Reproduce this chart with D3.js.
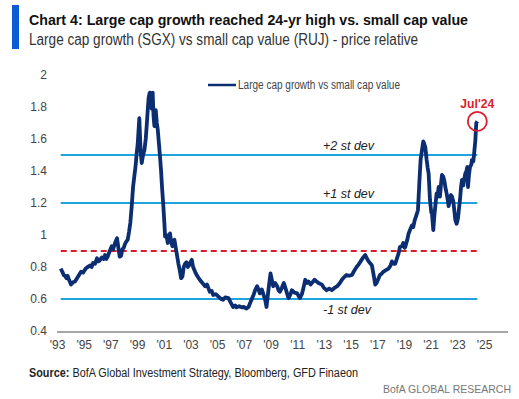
<!DOCTYPE html>
<html>
<head>
<meta charset="utf-8">
<script src="https://cdn.jsdelivr.net/npm/d3@7"></script>
<style>
  body { margin: 0; background: #fff; }
  svg { display: block; font-family: "Liberation Sans", Arial, sans-serif; }
</style>
</head>
<body>
<script>
(function() {
    'use strict';

    // decimal year of each reading, and the price relative SGX / RUJ
    var years = [
        1993.28, 1993.4, 1993.5, 1993.6, 1993.7, 1993.8, 1993.9, 1994.05, 1994.2, 1994.35,
        1994.5, 1994.65, 1994.8, 1994.95, 1995.15, 1995.3, 1995.5, 1995.6, 1995.7, 1995.85,
        1996.0, 1996.1, 1996.2, 1996.35, 1996.5, 1996.6, 1996.7, 1996.8, 1996.95, 1997.1,
        1997.2, 1997.35, 1997.5, 1997.6, 1997.7, 1997.8, 1997.9, 1998.0, 1998.1, 1998.2,
        1998.3, 1998.4, 1998.5, 1998.6, 1998.7, 1998.8, 1998.9, 1998.97, 1999.05, 1999.1,
        1999.17, 1999.22, 1999.27, 1999.35, 1999.45, 1999.55, 1999.65, 1999.72, 1999.8, 1999.87,
        1999.95, 2000.02, 2000.1, 2000.17, 2000.23, 2000.3, 2000.4, 2000.48, 2000.55, 2000.65,
        2000.72, 2000.8, 2000.87, 2000.97, 2001.05, 2001.1, 2001.2, 2001.3, 2001.4, 2001.47,
        2001.55, 2001.65, 2001.72, 2001.8, 2001.9, 2001.97, 2002.1, 2002.2, 2002.3, 2002.4,
        2002.5, 2002.6, 2002.7, 2002.8, 2002.9, 2003.0, 2003.1, 2003.2, 2003.35, 2003.5,
        2003.7, 2003.9, 2004.1, 2004.25, 2004.45, 2004.6, 2004.7, 2004.9, 2005.1, 2005.3,
        2005.45, 2005.6, 2005.85, 2006.0, 2006.2, 2006.35, 2006.45, 2006.65, 2006.85, 2007.0,
        2007.2, 2007.35, 2007.45, 2007.6, 2007.75, 2007.85, 2008.0, 2008.1, 2008.2, 2008.35,
        2008.5, 2008.6, 2008.7, 2008.85, 2009.0, 2009.1, 2009.2, 2009.35, 2009.5, 2009.6,
        2009.7, 2009.85, 2010.0, 2010.15, 2010.35, 2010.5, 2010.6, 2010.8, 2011.0, 2011.1,
        2011.2, 2011.35, 2011.5, 2011.6, 2011.75, 2011.85, 2012.0, 2012.1, 2012.3, 2012.45,
        2012.6, 2012.85, 2013.0, 2013.2, 2013.4, 2013.6, 2013.8, 2014.0, 2014.2, 2014.35,
        2014.5, 2014.7, 2014.9, 2015.1, 2015.3, 2015.45, 2015.6, 2015.75, 2015.95, 2016.1,
        2016.25, 2016.35, 2016.5, 2016.6, 2016.75, 2016.85, 2016.95, 2017.1, 2017.2, 2017.35,
        2017.45, 2017.65, 2017.85, 2018.0, 2018.1, 2018.25, 2018.35, 2018.5, 2018.6, 2018.7,
        2018.85, 2018.95, 2019.05, 2019.1, 2019.25, 2019.35, 2019.5, 2019.6, 2019.7, 2019.8,
        2019.9, 2020.05, 2020.15, 2020.25, 2020.35, 2020.45, 2020.52, 2020.6, 2020.7, 2020.78,
        2020.85, 2020.95, 2021.05, 2021.1, 2021.2, 2021.28, 2021.35, 2021.45, 2021.52, 2021.6,
        2021.7, 2021.78, 2021.85, 2021.95, 2022.05, 2022.1, 2022.2, 2022.28, 2022.35, 2022.45,
        2022.52, 2022.6, 2022.7, 2022.78, 2022.85, 2022.95, 2023.05, 2023.12, 2023.2, 2023.28,
        2023.35, 2023.45, 2023.52, 2023.6, 2023.68, 2023.75, 2023.8, 2023.88, 2023.95, 2024.05,
        2024.1, 2024.2, 2024.25, 2024.35, 2024.42, 2024.5
    ];
    var relative = [
        0.79, 0.77, 0.75, 0.745, 0.73, 0.745, 0.72, 0.69, 0.705, 0.71,
        0.73, 0.75, 0.77, 0.765, 0.79, 0.80, 0.81, 0.80, 0.825, 0.82,
        0.855, 0.835, 0.84, 0.86, 0.85, 0.875, 0.85, 0.865, 0.90, 0.93,
        0.91, 0.95, 0.98, 0.92, 0.865, 0.87, 0.91, 0.92, 0.945, 0.96,
        0.97, 1.02, 1.08, 1.18, 1.30, 1.37, 1.44, 1.51, 1.57, 1.64,
        1.73, 1.62, 1.52, 1.45, 1.50, 1.53, 1.60, 1.68, 1.78, 1.86,
        1.89, 1.83, 1.79, 1.89, 1.75, 1.68, 1.78, 1.70, 1.66, 1.56,
        1.49, 1.40, 1.30, 1.18, 1.07, 0.99, 1.00, 0.95, 0.98, 1.01,
        0.96, 0.93, 0.96, 0.97, 0.92, 0.885, 0.82, 0.78, 0.73, 0.74,
        0.80, 0.82, 0.83, 0.80, 0.81, 0.83, 0.845, 0.80, 0.77, 0.745,
        0.72, 0.70, 0.68, 0.69, 0.645, 0.65, 0.625, 0.63, 0.615, 0.60,
        0.595, 0.61, 0.605, 0.58, 0.55, 0.56, 0.548, 0.555, 0.548, 0.55,
        0.54, 0.55, 0.57, 0.60, 0.63, 0.655, 0.68, 0.66, 0.635, 0.66,
        0.62, 0.595, 0.55, 0.66, 0.76, 0.72, 0.68, 0.70, 0.68, 0.655,
        0.645, 0.67, 0.70, 0.66, 0.605, 0.63, 0.655, 0.64, 0.635, 0.62,
        0.605, 0.63, 0.68, 0.72, 0.70, 0.71, 0.69, 0.70, 0.72, 0.71,
        0.70, 0.69, 0.67, 0.655, 0.665, 0.655, 0.67, 0.68, 0.70, 0.72,
        0.735, 0.75, 0.745, 0.75, 0.78, 0.80, 0.815, 0.835, 0.86, 0.875,
        0.85, 0.835, 0.82, 0.81, 0.74, 0.69, 0.70, 0.73, 0.75, 0.76,
        0.77, 0.78, 0.79, 0.81, 0.835, 0.82, 0.82, 0.86, 0.885, 0.925,
        0.93, 0.95, 0.92, 0.925, 0.97, 1.01, 1.04, 1.06, 1.05, 1.09,
        1.115, 1.155, 1.32, 1.47, 1.53, 1.585, 1.57, 1.55, 1.47, 1.42,
        1.385, 1.22, 1.14, 1.135, 1.03, 1.12, 1.18, 1.26, 1.24, 1.30,
        1.24, 1.32, 1.375, 1.365, 1.33, 1.30, 1.26, 1.22, 1.18, 1.22,
        1.25, 1.24, 1.21, 1.15, 1.095, 1.07, 1.105, 1.16, 1.22, 1.30,
        1.345, 1.31, 1.35, 1.385, 1.40, 1.425, 1.30, 1.38, 1.425, 1.44,
        1.47, 1.46, 1.50, 1.59, 1.70, 1.71
    ];

    var y_ticks = [0.4, 0.6, 0.8, 1, 1.2, 1.4, 1.6, 1.8, 2];
    var x_ticks = [1993, 1995, 1997, 1999, 2001, 2003, 2005, 2007, 2009,
                   2011, 2013, 2015, 2017, 2019, 2021, 2023, 2025];
    var x_tick_labels = ["'93", "'95", "'97", "'99", "'01", "'03", "'05", "'07", "'09",
                         "'11", "'13", "'15", "'17", "'19", "'21", "'23", "'25"];
    var band_values = [1.5, 1.2, 0.9, 0.6];
    var band_labels = ['+2 st dev', '+1 st dev', '', '-1 st dev'];

    var navy = '#0b2d72';
    var light_blue = '#1ea3dc';
    var red = '#d81e2c';

    var svg = d3.select('body').append('svg')
        .attr('width', 519)
        .attr('height', 399);

    // header
    svg.append('rect')
        .attr('x', 12).attr('y', 5)
        .attr('width', 7).attr('height', 44)
        .attr('fill', '#0b5ad6');
    svg.append('text')
        .attr('x', 29).attr('y', 25)
        .attr('font-size', 15.5).attr('font-weight', 'bold')
        .attr('fill', '#111')
        .attr('textLength', 439).attr('lengthAdjust', 'spacingAndGlyphs')
        .text('Chart 4: Large cap growth reached 24-yr high vs. small cap value');
    svg.append('text')
        .attr('x', 29).attr('y', 45)
        .attr('font-size', 16)
        .attr('fill', '#333')
        .attr('textLength', 389).attr('lengthAdjust', 'spacingAndGlyphs')
        .text('Large cap growth (SGX) vs small cap value (RUJ) - price relative');

    var scale_x = d3.scaleLinear().domain([1993, 2025]).range([57, 484]);
    var scale_y = d3.scaleLinear().domain([0.4, 2]).range([331, 75]);

    // y tick labels (no axis line)
    svg.append('g')
        .attr('transform', 'translate(47,0)')
        .call(d3.axisLeft(scale_y).tickValues(y_ticks).tickSize(0).tickPadding(0)
              .tickFormat(d3.format('')))
        .call(function(g) {
            g.select('.domain').remove();
            g.selectAll('text')
                .attr('font-family', null)
                .attr('font-size', 12)
                .attr('fill', '#444');
        });

    // x axis
    svg.append('line')
        .attr('x1', 57).attr('x2', 508)
        .attr('y1', 332).attr('y2', 332)
        .attr('stroke', '#8a8a8a').attr('stroke-width', 1.5);
    svg.append('g')
        .attr('transform', 'translate(0,340)')
        .call(d3.axisBottom(scale_x).tickValues(x_ticks).tickSize(0).tickPadding(0)
              .tickFormat(function(d, i) { return x_tick_labels[i]; }))
        .call(function(g) {
            g.select('.domain').remove();
            g.selectAll('text')
                .attr('font-family', null)
                .attr('font-size', 12)
                .attr('fill', '#444');
        });

    // st dev bands
    var x0 = scale_x(years[0]);
    var x1 = scale_x(years[years.length - 1]);
    svg.selectAll('line.band')
        .data(band_values)
        .enter()
        .append('line')
        .attr('class', 'band')
        .attr('x1', x0).attr('x2', x1)
        .attr('y1', function(d) { return scale_y(d); })
        .attr('y2', function(d) { return scale_y(d); })
        .attr('stroke', function(d, i) { return band_labels[i] ? light_blue : red; })
        .attr('stroke-width', 2)
        .attr('stroke-dasharray', function(d, i) { return band_labels[i] ? null : '6,4'; });

    svg.selectAll('text.band')
        .data(band_values)
        .enter()
        .append('text')
        .attr('class', 'band')
        .attr('x', 323)
        .attr('y', function(d, i) { return scale_y(d) + (i === 3 ? 15 : -5); })
        .attr('font-size', 12.5)
        .attr('font-style', 'italic')
        .attr('fill', '#222')
        .text(function(d, i) { return band_labels[i]; });

    // series
    var line = d3.line()
        .x(function(d) { return scale_x(d[0]); })
        .y(function(d) { return scale_y(d[1]); });
    svg.append('path')
        .datum(d3.zip(years, relative))
        .attr('d', line)
        .attr('fill', 'none')
        .attr('stroke', navy)
        .attr('stroke-width', 3.8)
        .attr('stroke-linejoin', 'round');

    // Jul'24 marker
    var last_x = scale_x(years[years.length - 1]);
    var last_y = scale_y(relative[relative.length - 1]);
    svg.append('circle')
        .attr('cx', last_x).attr('cy', last_y).attr('r', 9.5)
        .attr('fill', 'none')
        .attr('stroke', red).attr('stroke-width', 1.8);
    svg.append('text')
        .attr('x', last_x).attr('y', last_y - 13)
        .attr('text-anchor', 'middle')
        .attr('font-size', 12.5).attr('font-weight', 'bold')
        .attr('fill', red)
        .attr('textLength', 34).attr('lengthAdjust', 'spacingAndGlyphs')
        .text("Jul'24");

    // legend
    svg.append('line')
        .attr('x1', 208).attr('x2', 236)
        .attr('y1', 85).attr('y2', 85)
        .attr('stroke', navy).attr('stroke-width', 2.5);
    svg.append('text')
        .attr('x', 238).attr('y', 89)
        .attr('font-size', 12)
        .attr('fill', '#444')
        .attr('textLength', 162).attr('lengthAdjust', 'spacingAndGlyphs')
        .text('Large cap growth vs small cap value');

    // footer
    var source = svg.append('text')
        .attr('x', 29).attr('y', 377)
        .attr('font-size', 12)
        .attr('fill', '#222')
        .attr('textLength', 329).attr('lengthAdjust', 'spacingAndGlyphs');
    source.append('tspan').attr('font-weight', 'bold').text('Source:');
    source.append('tspan').text(' BofA Global Investment Strategy, Bloomberg, GFD Finaeon');
    svg.append('text')
        .attr('x', 511).attr('y', 393)
        .attr('text-anchor', 'end')
        .attr('font-size', 10.5)
        .attr('fill', '#777')
        .text('BofA GLOBAL RESEARCH');
})();
</script>
</body>
</html>
